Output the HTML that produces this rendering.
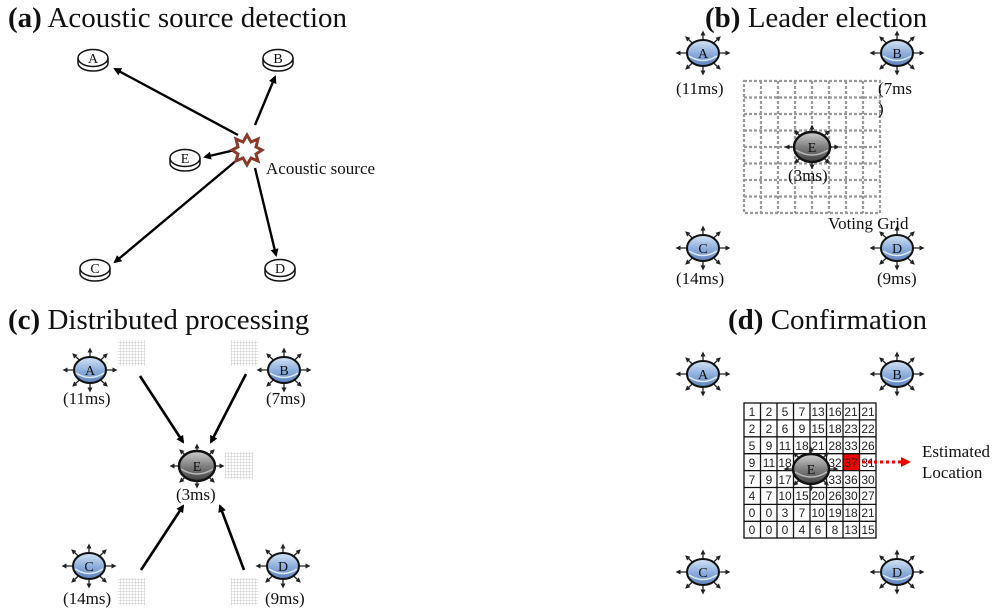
<!DOCTYPE html>
<html><head><meta charset="utf-8"><style>
html,body{margin:0;padding:0;background:#fff;}
svg{display:block}
text{font-family:"Liberation Serif",serif;fill:#111}
.t{font-size:29px}
.l{font-size:17px}
.n{font-size:14px;text-anchor:middle}
.g{font-family:"Liberation Sans",sans-serif;font-size:12px;text-anchor:middle;fill:#222}
</style></head><body>
<svg width="1000" height="612" viewBox="0 0 1000 612" xmlns="http://www.w3.org/2000/svg">
<defs>
<marker id="ar" markerWidth="8" markerHeight="8" refX="6" refY="4" orient="auto" markerUnits="userSpaceOnUse" viewBox="0 0 8 8"><path d="M0,0 L8,4 L0,8 z" fill="#000"/></marker>
<marker id="rr" markerWidth="10" markerHeight="10" refX="8" refY="5" orient="auto" markerUnits="userSpaceOnUse"><path d="M0,0 L10,5 L0,10 z" fill="#e00"/></marker>
<marker id="sp" markerWidth="5" markerHeight="5" refX="2.5" refY="2.5" orient="auto" markerUnits="userSpaceOnUse"><path d="M0,0 L5,2.5 L0,5 z" fill="#222"/></marker>
<linearGradient id="bl" x1="0" y1="0" x2="0" y2="1"><stop offset="0" stop-color="#d6e4f5"/><stop offset="0.5" stop-color="#8fb0de"/><stop offset="1" stop-color="#5f82bd"/></linearGradient>
<linearGradient id="dk" x1="0" y1="0" x2="0" y2="1"><stop offset="0" stop-color="#d0d0d0"/><stop offset="0.5" stop-color="#808080"/><stop offset="1" stop-color="#404040"/></linearGradient>
<g id="spk" stroke="#222" stroke-width="1.3" fill="none">
<line x1="0" y1="0" x2="-25" y2="0" marker-end="url(#sp)"/><line x1="0" y1="0" x2="25" y2="0" marker-end="url(#sp)"/>
<line x1="0" y1="0" x2="0" y2="-20" marker-end="url(#sp)"/><line x1="0" y1="0" x2="0" y2="20" marker-end="url(#sp)"/>
<line x1="0" y1="0" x2="-16" y2="-15" marker-end="url(#sp)"/><line x1="0" y1="0" x2="16" y2="-15" marker-end="url(#sp)"/>
<line x1="0" y1="0" x2="-16" y2="15" marker-end="url(#sp)"/><line x1="0" y1="0" x2="16" y2="15" marker-end="url(#sp)"/>
</g>
<g id="sn"><use href="#spk"/><ellipse cx="0" cy="0" rx="16" ry="13" fill="url(#bl)" stroke="#111" stroke-width="2"/><path d="M-14,3 Q0,12 14,3" stroke="#dfeaf7" stroke-width="1.5" fill="none"/></g>
<g id="sd"><use href="#spk"/><ellipse cx="0" cy="0" rx="18" ry="15" fill="url(#dk)" stroke="#111" stroke-width="2.4"/><path d="M-16,3 Q0,13 16,3" stroke="#bbb" stroke-width="1.5" fill="none"/></g>
<g id="dsk"><path d="M-15,0 v5 a15,8 0 0 0 30,0 v-5" fill="#fff" stroke="#111" stroke-width="1.5"/><ellipse cx="0" cy="0" rx="15" ry="8.5" fill="#fff" stroke="#111" stroke-width="1.5"/></g>
<pattern id="fg" width="3" height="3" patternUnits="userSpaceOnUse"><rect width="3" height="3" fill="#fff"/><path d="M0,0 H3 M0,0 V3" stroke="#bbb" stroke-width="0.8"/></pattern>
</defs>

<!-- (a) -->
<text x="8" y="27" class="t"><tspan font-weight="bold">(a)</tspan> Acoustic source detection</text>
<g stroke="#000" stroke-width="2.4" marker-end="url(#ar)">
<line x1="238" y1="135" x2="115" y2="69"/>
<line x1="255" y1="125" x2="275" y2="77"/>
<line x1="235" y1="150" x2="205" y2="157"/>
<line x1="237" y1="160" x2="115" y2="262"/>
<line x1="255" y1="168" x2="276" y2="255"/>
</g>
<use href="#dsk" x="93" y="58"/><text x="93" y="63" class="n">A</text>
<use href="#dsk" x="278" y="58"/><text x="278" y="63" class="n">B</text>
<use href="#dsk" x="185" y="158"/><text x="185" y="163" class="n">E</text>
<use href="#dsk" x="95" y="268"/><text x="95" y="273" class="n">C</text>
<use href="#dsk" x="280" y="268"/><text x="280" y="273" class="n">D</text>
<path d="M247,135 L251,142 L258,139 L256,147 L262,150 L256,154 L258,161 L251,158 L247,165 L243,158 L236,161 L238,154 L232,150 L238,147 L236,139 L243,142 Z" fill="#fff" stroke="#8b3a2a" stroke-width="3"/>
<text x="266" y="174" class="l">Acoustic source</text>

<!-- (b) -->
<text x="705" y="27" class="t"><tspan font-weight="bold">(b)</tspan> Leader election</text>
<g stroke="#999" stroke-width="2.2" stroke-dasharray="3,2" fill="none">
<rect x="744" y="81" width="136" height="132"/>
<path d="M761,81V213M778,81V213M795,81V213M812,81V213M829,81V213M846,81V213M863,81V213M744,97.5H880M744,114H880M744,130.5H880M744,147H880M744,163.5H880M744,180H880M744,196.5H880"/>
</g>
<use href="#sn" x="703" y="53"/><text x="703" y="58" class="n">A</text>
<use href="#sn" x="897" y="53"/><text x="897" y="58" class="n">B</text>
<use href="#sd" x="812" y="147"/><text x="812" y="152" class="n">E</text>
<use href="#sn" x="703" y="248"/><text x="703" y="253" class="n">C</text>
<use href="#sn" x="897" y="248"/><text x="897" y="253" class="n">D</text>
<text x="676" y="94" class="l">(11ms)</text>
<text x="878" y="94" class="l">(7ms</text>
<text x="878" y="114" class="l">)</text>
<text x="788" y="181" class="l">(3ms)</text>
<text x="828" y="229" class="l">Voting Grid</text>
<text x="676" y="284" class="l">(14ms)</text>
<text x="877" y="284" class="l">(9ms)</text>

<!-- (c) -->
<text x="8" y="329" class="t"><tspan font-weight="bold">(c)</tspan> Distributed processing</text>
<rect x="118" y="340" width="27" height="26" fill="url(#fg)"/>
<rect x="231" y="340" width="27" height="26" fill="url(#fg)"/>
<rect x="225" y="452" width="28" height="27" fill="url(#fg)"/>
<rect x="118" y="578" width="27" height="27" fill="url(#fg)"/>
<rect x="231" y="578" width="27" height="27" fill="url(#fg)"/>
<g stroke="#000" stroke-width="2.6" marker-end="url(#ar)">
<line x1="140" y1="376" x2="183" y2="442"/>
<line x1="246" y1="374" x2="211" y2="442"/>
<line x1="141" y1="570" x2="183" y2="506"/>
<line x1="244" y1="570" x2="220" y2="506"/>
</g>
<use href="#sn" x="90" y="370"/><text x="90" y="375" class="n">A</text>
<use href="#sn" x="284" y="370"/><text x="284" y="375" class="n">B</text>
<use href="#sd" x="197" y="466"/><text x="197" y="471" class="n">E</text>
<use href="#sn" x="89" y="566"/><text x="89" y="571" class="n">C</text>
<use href="#sn" x="283" y="566"/><text x="283" y="571" class="n">D</text>
<text x="63" y="404" class="l">(11ms)</text>
<text x="266" y="404" class="l">(7ms)</text>
<text x="176" y="500" class="l">(3ms)</text>
<text x="63" y="604" class="l">(14ms)</text>
<text x="265" y="604" class="l">(9ms)</text>

<!-- (d) -->
<text x="728" y="329" class="t"><tspan font-weight="bold">(d)</tspan> Confirmation</text>
<rect x="843.5" y="454" width="16.5" height="16.9" fill="#e00"/>
<g stroke="#111" stroke-width="1.3" fill="none">
<rect x="744" y="403" width="132" height="135"/>
<path d="M760.5,403V538M777,403V538M793.5,403V538M810,403V538M826.5,403V538M843,403V538M859.5,403V538M744,419.9H876M744,436.8H876M744,453.7H876M744,470.6H876M744,487.5H876M744,504.4H876M744,521.3H876"/>
</g>
<g class="g">
<text x="752" y="416" class="g">1</text><text x="769" y="416" class="g">2</text><text x="785" y="416" class="g">5</text><text x="802" y="416" class="g">7</text><text x="818" y="416" class="g">13</text><text x="835" y="416" class="g">16</text><text x="851" y="416" class="g">21</text><text x="868" y="416" class="g">21</text>
<text x="752" y="433" class="g">2</text><text x="769" y="433" class="g">2</text><text x="785" y="433" class="g">6</text><text x="802" y="433" class="g">9</text><text x="818" y="433" class="g">15</text><text x="835" y="433" class="g">18</text><text x="851" y="433" class="g">23</text><text x="868" y="433" class="g">22</text>
<text x="752" y="450" class="g">5</text><text x="769" y="450" class="g">9</text><text x="785" y="450" class="g">11</text><text x="802" y="450" class="g">18</text><text x="818" y="450" class="g">21</text><text x="835" y="450" class="g">28</text><text x="851" y="450" class="g">33</text><text x="868" y="450" class="g">26</text>
<text x="752" y="467" class="g">9</text><text x="769" y="467" class="g">11</text><text x="785" y="467" class="g">18</text><text x="835" y="467" class="g">32</text><text x="851" y="467" class="g">37</text><text x="868" y="467" class="g">31</text>
<text x="752" y="484" class="g">7</text><text x="769" y="484" class="g">9</text><text x="785" y="484" class="g">17</text><text x="835" y="484" class="g">33</text><text x="851" y="484" class="g">36</text><text x="868" y="484" class="g">30</text>
<text x="752" y="500" class="g">4</text><text x="769" y="500" class="g">7</text><text x="785" y="500" class="g">10</text><text x="802" y="500" class="g">15</text><text x="818" y="500" class="g">20</text><text x="835" y="500" class="g">26</text><text x="851" y="500" class="g">30</text><text x="868" y="500" class="g">27</text>
<text x="752" y="517" class="g">0</text><text x="769" y="517" class="g">0</text><text x="785" y="517" class="g">3</text><text x="802" y="517" class="g">7</text><text x="818" y="517" class="g">10</text><text x="835" y="517" class="g">19</text><text x="851" y="517" class="g">18</text><text x="868" y="517" class="g">21</text>
<text x="752" y="534" class="g">0</text><text x="769" y="534" class="g">0</text><text x="785" y="534" class="g">0</text><text x="802" y="534" class="g">4</text><text x="818" y="534" class="g">6</text><text x="835" y="534" class="g">8</text><text x="851" y="534" class="g">13</text><text x="868" y="534" class="g">15</text>
</g>
<use href="#sd" x="811" y="469"/><text x="811" y="474" class="n">E</text>
<line x1="862" y1="462" x2="909" y2="462" stroke="#e00" stroke-width="3" stroke-dasharray="3,3" marker-end="url(#rr)"/>
<text x="922" y="457" class="l">Estimated</text>
<text x="922" y="478" class="l">Location</text>
<use href="#sn" x="703" y="374"/><text x="703" y="379" class="n">A</text>
<use href="#sn" x="897" y="374"/><text x="897" y="379" class="n">B</text>
<use href="#sn" x="703" y="572"/><text x="703" y="577" class="n">C</text>
<use href="#sn" x="897" y="572"/><text x="897" y="577" class="n">D</text>
</svg>
</body></html>
